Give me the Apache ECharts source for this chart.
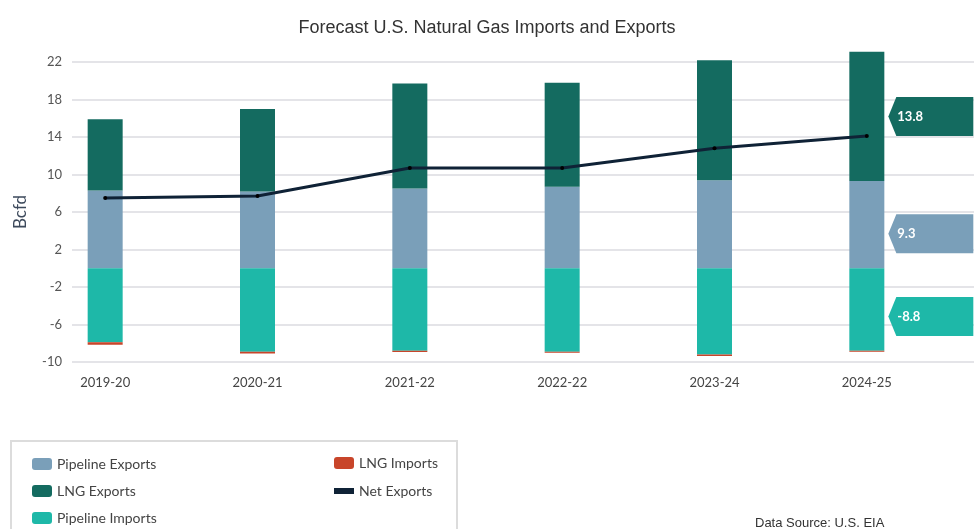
<!DOCTYPE html>
<html lang="en">
<head>
    <meta charset="UTF-8">
    <script src="https://cdn.jsdelivr.net/npm/echarts@6/dist/echarts.min.js"></script>
    <title>Forecast U.S. Natural Gas Imports and Exports</title>
    <style>
        html, body { margin: 0; padding: 0; background: #fff; }
        #main { width: 974px; height: 529px; }
    </style>
</head>
<body>
    <div id="main"></div>
    <script type="text/javascript">
        // data
        var years = ['2019-20', '2020-21', '2021-22', '2022-22', '2023-24', '2024-25'];
        var pipelineExports = [8.3, 8.2, 8.5, 8.7, 9.4, 9.3];
        var lngExports = [7.6, 8.8, 11.2, 11.1, 12.8, 13.8];
        var pipelineImports = [-7.9, -8.9, -8.8, -8.9, -9.2, -8.8];
        var lngImports = [-0.25, -0.18, -0.12, -0.1, -0.15, -0.1];
        var netExports = [7.5, 7.7, 10.7, 10.7, 12.8, 14.1];
        // y axis ticks: -10 .. 22 step 4
        var yMin = -10, yMax = 22, yStep = 4;

        var font = 'Lato';
        var last = years.length - 1;
        var tagPath = 'path://M0,20 L8,0 L85,0 L85,40 L8,40 Z';

        // 右侧标签
        function tag(yVal, val, color, dy) {
            return {
                symbol: tagPath,
                symbolSize: [85, 39],
                symbolOffset: [64, dy],
                silent: true,
                data: [{ coord: [last, yVal], value: val, itemStyle: { color: color } }],
                label: {
                    show: true,
                    position: 'insideLeft',
                    distance: 9,
                    formatter: '{c}',
                    color: '#fff',
                    fontFamily: font,
                    fontWeight: 'bold',
                    fontSize: 13
                }
            };
        }

        // 图例, 每项一个
        function legendItem(item, left, top, h) {
            return {
                left: left,
                top: top,
                itemWidth: 20,
                itemHeight: h || 12,
                textStyle: { fontFamily: font, fontSize: 14, color: '#444' },
                data: [item]
            };
        }

        var myChart = echarts.init(document.getElementById('main'));
        var option = {
            animation: false,
            title: [{
                text: 'Forecast U.S. Natural Gas Imports and Exports',
                left: 'center',
                top: 14,
                textStyle: { fontFamily: 'Liberation Sans', fontWeight: 'normal', fontSize: 18, color: '#333' }
            }, {
                text: 'Data Source: U.S. EIA',
                left: 750,
                top: 512,
                textStyle: { fontFamily: 'Liberation Sans', fontWeight: 'normal', fontSize: 13, color: '#333' }
            }],
            graphic: [{
                type: 'rect',
                shape: { x: 11, y: 441, width: 446, height: 100 },
                style: { fill: 'none', stroke: '#dcdcdc', lineWidth: 2 }
            }],
            legend: [
                legendItem('Pipeline Exports', 27, 452),
                legendItem('LNG Exports', 27, 479),
                legendItem('Pipeline Imports', 27, 506),
                legendItem('LNG Imports', 329, 451),
                legendItem({ name: 'Net Exports', icon: 'rect', itemStyle: { color: '#0f2236' } }, 329, 479, 6)
            ],
            grid: [
                { left: 72, right: 0, top: 62, height: 300 },   // 网格线和y轴
                { left: 29, right: 31, top: 62, height: 300 }   // 柱子
            ],
            xAxis: [{
                gridIndex: 0, type: 'value', show: false
            }, {
                gridIndex: 1,
                type: 'category',
                data: years,
                axisLine: { show: false },
                axisTick: { show: false },
                axisLabel: { fontFamily: font, fontSize: 13, color: '#444', margin: 14 }
            }],
            yAxis: [{
                gridIndex: 0,
                type: 'value',
                min: 0,
                max: yMax - yMin,
                interval: yStep,
                name: 'Bcfd',
                nameLocation: 'middle',
                nameGap: 43,
                nameTextStyle: { fontFamily: font, fontSize: 17, color: '#3d4a5c' },
                axisLine: { show: false },
                axisTick: { show: false },
                axisLabel: {
                    fontFamily: font, fontSize: 13, color: '#555', margin: 10,
                    formatter: function (v) { return v + yMin; }
                },
                splitLine: { lineStyle: { color: '#e4e4e8', width: 2 } }
            }, {
                gridIndex: 1,
                type: 'value',
                min: yMin,
                max: yMax,
                show: false,
                splitLine: { show: false }
            }],
            series: [{
                name: 'Pipeline Exports',
                type: 'bar',
                stack: 'total',
                clip: false,
                xAxisIndex: 1, yAxisIndex: 1,
                barWidth: 35,
                itemStyle: { color: '#7a9fb9' },
                data: pipelineExports,
                markPoint: tag(pipelineExports[last] / 2, pipelineExports[last], '#7a9fb9', 9)
            }, {
                name: 'LNG Exports',
                type: 'bar',
                stack: 'total',
                clip: false,
                xAxisIndex: 1, yAxisIndex: 1,
                barWidth: 35,
                itemStyle: { color: '#146b60' },
                data: lngExports,
                markPoint: tag(pipelineExports[last] + lngExports[last] / 2, lngExports[last], '#146b60', 0)
            }, {
                name: 'Pipeline Imports',
                type: 'bar',
                stack: 'total',
                clip: false,
                xAxisIndex: 1, yAxisIndex: 1,
                barWidth: 35,
                itemStyle: { color: '#1eb8a8' },
                data: pipelineImports,
                markPoint: tag(pipelineImports[last] / 2, pipelineImports[last], '#1eb8a8', 7)
            }, {
                name: 'LNG Imports',
                type: 'bar',
                stack: 'total',
                clip: false,
                xAxisIndex: 1, yAxisIndex: 1,
                barWidth: 35,
                itemStyle: { color: '#c8452a' },
                data: lngImports
            }, {
                name: 'Net Exports',
                type: 'line',
                xAxisIndex: 1, yAxisIndex: 1,
                symbol: 'circle',
                symbolSize: 4,
                itemStyle: { color: '#000' },
                lineStyle: { color: '#0f2236', width: 3 },
                z: 5,
                data: netExports
            }]
        };
        myChart.setOption(option);
    </script>
</body>
</html>
